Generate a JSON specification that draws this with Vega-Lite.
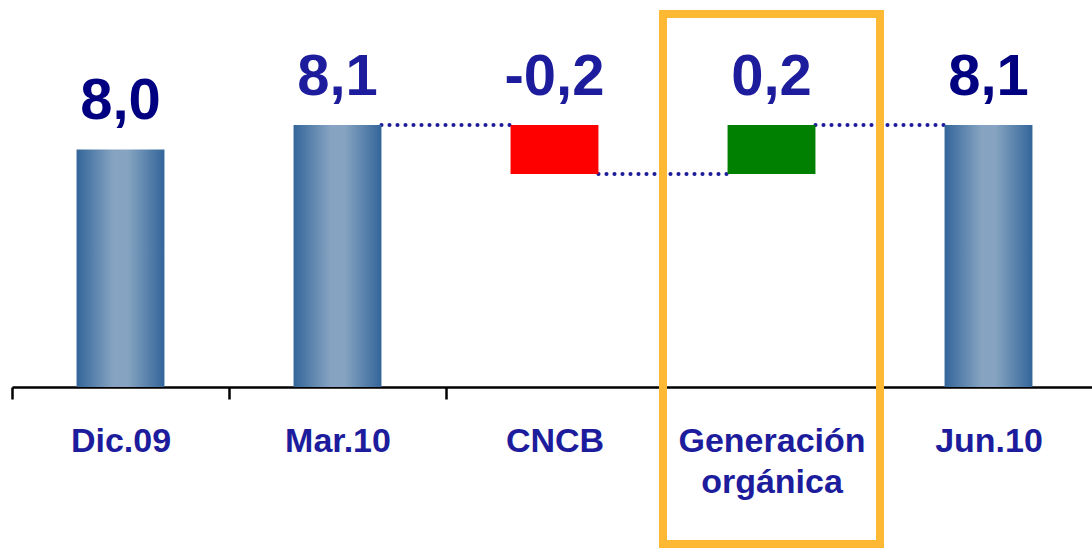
{
  "$schema": "https://vega.github.io/schema/vega-lite/v6.json",
  "width": 1085,
  "height": 387,
  "autosize": {"type": "none"},
  "padding": {"left": 12, "top": 0, "right": 0, "bottom": 163},
  "background": "white",
  "config": {"view": {"stroke": null}},
  "datasets": {
    "bars": [
      {"cat": "Dic.09", "lo": 0, "hi": 8.0, "kind": "total", "label": "8,0"},
      {"cat": "Mar.10", "lo": 0, "hi": 8.1, "kind": "total", "label": "8,1"},
      {"cat": "CNCB", "lo": 7.9, "hi": 8.1, "kind": "decrease", "label": "-0,2"},
      {"cat": "Generación orgánica", "lo": 7.9, "hi": 8.1, "kind": "increase", "label": "0,2"},
      {"cat": "Jun.10", "lo": 0, "hi": 8.1, "kind": "total", "label": "8,1"}
    ],
    "links": [
      {"from": "Mar.10", "to": "CNCB", "level": 8.1},
      {"from": "CNCB", "to": "Generación orgánica", "level": 7.9},
      {"from": "Generación orgánica", "to": "Jun.10", "level": 8.1}
    ],
    "highlight": [
      {"cat": "Generación orgánica", "top": 8.553, "bottom": 6.389}
    ]
  },
  "encoding": {
    "x": {
      "field": "cat",
      "type": "nominal",
      "scale": {"domain": ["Dic.09", "Mar.10", "CNCB", "Generación orgánica", "Jun.10"], "paddingInner": 0, "paddingOuter": 0},
      "axis": {
        "title": null,
        "orient": "bottom",
        "labelAngle": 0,
        "domainColor": "#000000",
        "domainWidth": 2.5,
        "tickColor": "#000000",
        "tickWidth": 2.5,
        "tickSize": 12,
        "tickBand": "extent",
        "labelFont": "Liberation Sans",
        "labelFontWeight": "bold",
        "labelFontSize": 34,
        "labelColor": "#1C1C9C",
        "labelBaseline": "alphabetic",
        "labelPadding": 52,
        "labelLineHeight": 41,
        "labelLimit": 0,
        "labelExpr": "datum.value == 'Generación orgánica' ? ['Generación', 'orgánica'] : datum.value"
      }
    }
  },
  "layer": [
    {
      "data": {"name": "links"},
      "mark": {"type": "rule", "strokeWidth": 4, "strokeCap": "round", "strokeDash": [0.1, 7.9], "color": "#1C1C9C"},
      "encoding": {
        "x": {"field": "from", "type": "nominal", "bandPosition": 0.7025},
        "x2": {"field": "to", "bandPosition": 0.2975},
        "y": {"field": "level", "type": "quantitative", "scale": {"domain": [7.03, 8.61], "zero": false, "nice": false}, "axis": null}
      }
    },
    {
      "data": {"name": "bars"},
      "transform": [{"filter": "datum.kind == 'total'"}],
      "mark": {
        "type": "bar",
        "clip": true,
        "width": {"band": 0.405},
        "color": {
          "gradient": "linear",
          "x1": 0, "x2": 1, "y1": 0, "y2": 0,
          "stops": [
            {"offset": 0, "color": "#33659A"},
            {"offset": 0.42, "color": "#86A4C1"},
            {"offset": 0.58, "color": "#86A4C1"},
            {"offset": 1, "color": "#33659A"}
          ]
        }
      },
      "encoding": {
        "y": {"field": "hi", "type": "quantitative"},
        "y2": {"field": "lo"}
      }
    },
    {
      "data": {"name": "bars"},
      "transform": [{"filter": "datum.kind != 'total'"}],
      "mark": {"type": "bar", "clip": true, "width": {"band": 0.405}},
      "encoding": {
        "y": {"field": "hi", "type": "quantitative"},
        "y2": {"field": "lo"},
        "color": {"field": "kind", "type": "nominal", "scale": {"domain": ["decrease", "increase"], "range": ["#FF0000", "#008000"]}, "legend": null}
      }
    },
    {
      "data": {"name": "bars"},
      "mark": {"type": "text", "font": "Liberation Sans", "fontWeight": "bold", "fontSize": 58, "baseline": "alphabetic", "align": "center", "dy": -30},
      "encoding": {
        "y": {"field": "hi", "type": "quantitative"},
        "text": {"field": "label"},
        "color": {"condition": {"test": "datum.cat == 'Dic.09' || datum.cat == 'Jun.10'", "value": "#000080"}, "value": "#1C1C9C"}
      }
    },
    {
      "data": {"name": "highlight"},
      "mark": {"type": "rect", "fill": null, "stroke": "#FDB933", "strokeWidth": 8, "clip": false},
      "encoding": {
        "y": {"field": "top", "type": "quantitative"},
        "y2": {"field": "bottom"}
      }
    }
  ]
}
